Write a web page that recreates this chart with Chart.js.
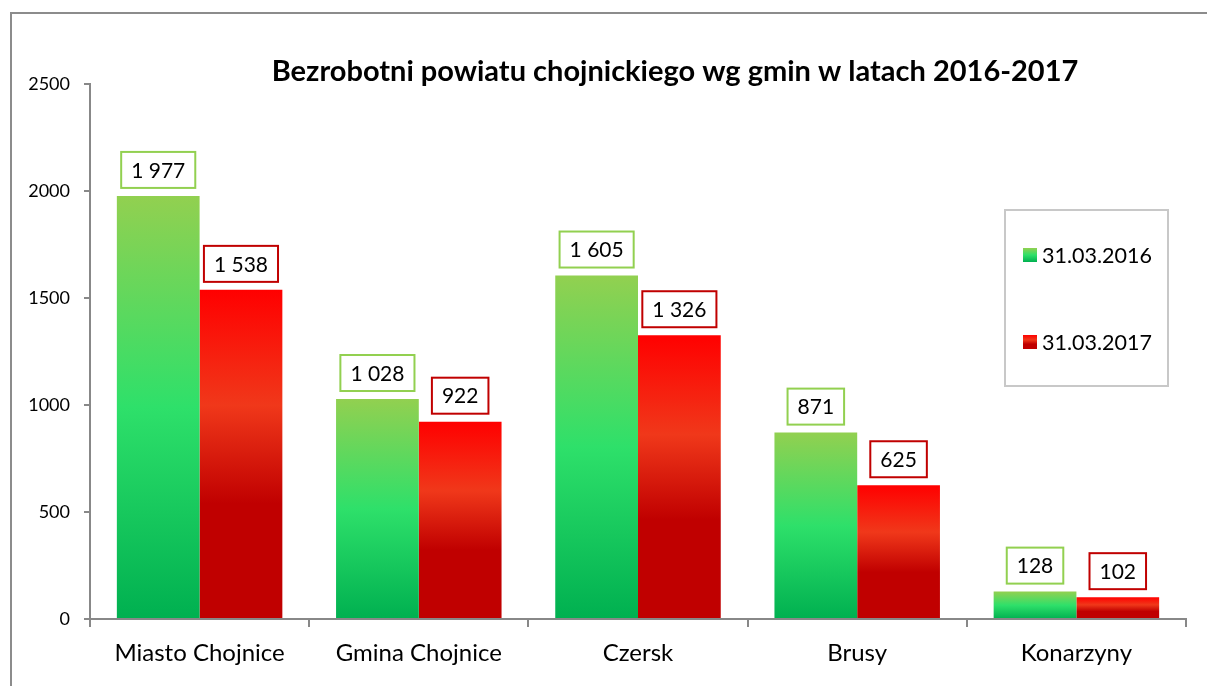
<!DOCTYPE html>
<html>
<head>
<meta charset="utf-8">
<script src="https://cdn.jsdelivr.net/npm/chart.js@4"></script>
<style>
  body { margin: 0; background: #fff; }
  #wrap { position: relative; width: 1207px; height: 686px; overflow: hidden; }
  #frame { position: absolute; left: 10px; top: 12px; width: 1220px; height: 700px; border: 2px solid #8c8c8c; }
  #box { position: absolute; left: 0; top: 0; width: 1207px; height: 686px; }
</style>
</head>
<body>
<div id="wrap">
  <div id="frame"></div>
  <div id="box"><canvas id="myChart"></canvas></div>
</div>
<script>
const categories = ["Miasto Chojnice", "Gmina Chojnice", "Czersk", "Brusy", "Konarzyny"];
const values2016 = [1977, 1028, 1605, 871, 128];
const values2017 = [1538, 922, 1326, 625, 102];
const seriesNames = ["31.03.2016", "31.03.2017"];
const yTicks = [0, 500, 1000, 1500, 2000, 2500];

const FONT = "Lato, 'Open Sans', sans-serif";

const greenStops = [[0, "#92d050"], [0.5, "#2ee06a"], [1, "#00b050"]];
const redStops = [[0, "#ff0000"], [0.35, "#f0381a"], [0.65, "#c00000"], [1, "#c00000"]];

function barGradient(stops) {
  return function (ctx) {
    const chart = ctx.chart;
    const y = chart.scales.y;
    if (!y || !ctx.parsed) return stops[1][1];
    const top = y.getPixelForValue(ctx.parsed.y);
    const bottom = y.getPixelForValue(0);
    if (!isFinite(top) || top === bottom) return stops[1][1];
    const g = chart.ctx.createLinearGradient(0, top, 0, bottom);
    stops.forEach(s => g.addColorStop(s[0], s[1]));
    return g;
  };
}

function fmt(v) {
  return String(v).replace(/\B(?=(\d{3})+(?!\d))/g, " ");
}

const labelBoxes = {
  id: "labelBoxes",
  afterDatasetsDraw(chart) {
    const c = chart.ctx;
    c.save();
    c.font = "21px " + FONT;
    c.textAlign = "center";
    c.textBaseline = "middle";
    chart.data.datasets.forEach((ds, i) => {
      chart.getDatasetMeta(i).data.forEach((bar, j) => {
        const txt = fmt(ds.data[j]);
        const w = c.measureText(txt).width + 20;
        const h = 36;
        const x = bar.x - w / 2;
        const y = bar.y - 8 - h;
        c.fillStyle = "#fff";
        c.fillRect(x, y, w, h);
        c.lineWidth = 2;
        c.strokeStyle = ds.labelBorder;
        c.strokeRect(x, y, w, h);
        c.fillStyle = "#000";
        c.fillText(txt, bar.x, y + h / 2 + 1);
      });
    });
    c.restore();
  }
};

const titleAndLegend = {
  id: "titleAndLegend",
  afterDraw(chart) {
    const c = chart.ctx;
    c.save();
    c.font = "bold 29px " + FONT;
    c.fillStyle = "#000";
    c.textAlign = "center";
    c.textBaseline = "middle";
    c.fillText("Bezrobotni powiatu chojnickiego wg gmin w latach 2016-2017", 675, 72);

    // legend box
    c.lineWidth = 2;
    c.strokeStyle = "#c8c8c8";
    c.strokeRect(1005, 210, 163, 176);
    c.font = "21.5px " + FONT;
    c.textAlign = "left";
    const rows = [255, 342];
    [greenStops, redStops].forEach((stops, i) => {
      const ty = rows[i];
      const g = c.createLinearGradient(0, ty - 7, 0, ty + 7);
      stops.forEach(s => g.addColorStop(s[0], s[1]));
      c.fillStyle = g;
      c.fillRect(1023, ty - 7, 14, 14);
      c.fillStyle = "#000";
      c.fillText(seriesNames[i], 1042, ty + 1);
    });
    c.restore();
  }
};

new Chart("myChart", {
  type: "bar",
  data: {
    labels: categories,
    datasets: [{
      label: seriesNames[0],
      data: values2016,
      backgroundColor: barGradient(greenStops),
      labelBorder: "#92d050",
      borderWidth: 0,
      categoryPercentage: 0.755,
      barPercentage: 1
    }, {
      label: seriesNames[1],
      data: values2017,
      backgroundColor: barGradient(redStops),
      labelBorder: "#c00000",
      borderWidth: 0,
      categoryPercentage: 0.755,
      barPercentage: 1
    }]
  },
  options: {
    responsive: true,
    maintainAspectRatio: false,
    animation: false,
    layout: { padding: { top: 84, right: 21, left: 0, bottom: 0 } },
    plugins: {
      legend: { display: false },
      tooltip: { enabled: false }
    },
    scales: {
      x: {
        grid: { offset: true, drawOnChartArea: false, color: "#888", lineWidth: 2, tickLength: 8 },
        border: { color: "#888", width: 2 },
        ticks: { color: "#000", font: { family: FONT, size: 24 }, padding: 12 },
        afterFit(scale) { scale.height = 67; }
      },
      y: {
        min: 0,
        max: 2500,
        afterBuildTicks(scale) { scale.ticks = yTicks.map(v => ({ value: v })); },
        grid: { drawOnChartArea: false, color: "#888", lineWidth: 2, tickLength: 6 },
        border: { color: "#888", width: 2 },
        ticks: { color: "#000", font: { family: FONT, size: 18 }, padding: 14, callback: v => String(v) },
        afterFit(scale) { scale.width = 90; }
      }
    }
  },
  plugins: [labelBoxes, titleAndLegend]
});
</script>
</body>
</html>
